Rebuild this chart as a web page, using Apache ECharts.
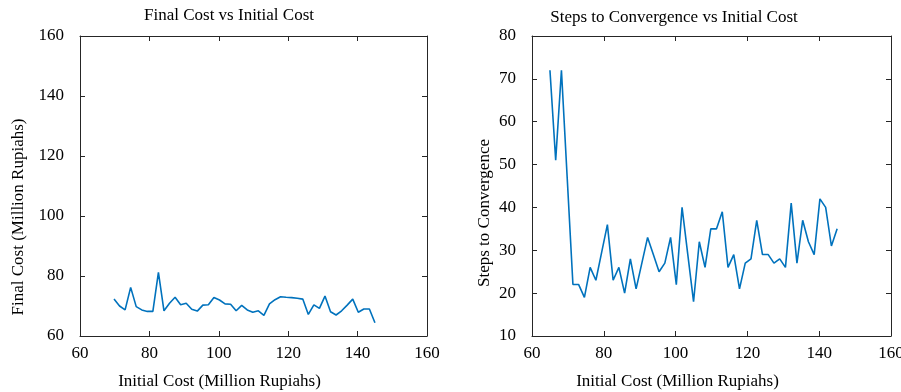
<!DOCTYPE html>
<html>
<head>
<meta charset="utf-8">
<script src="https://cdn.jsdelivr.net/npm/echarts@6/dist/echarts.min.js"></script>
<style>html,body{margin:0;padding:0;background:#fff;}#c{width:901px;height:392px;}</style>
</head>
<body>
<div id="c"></div>
<script>
// Left plot: Final Cost vs Initial Cost
const leftX = [69.8,71.4,73.0,74.6,76.2,77.8,79.4,81.0,82.6,84.2,85.8,87.4,89.0,90.6,92.2,93.8,95.4,97.0,98.6,100.2,101.8,103.4,105.0,106.6,108.2,109.8,111.4,113.0,114.6,116.2,117.8,119.4,121.0,122.6,124.2,125.8,127.4,129.0,130.6,132.2,133.8,135.4,137.0,138.6,140.2,141.8,143.4,145.0];
const finalCost = [72.3,70.0,68.7,76.2,69.8,68.7,68.2,68.2,81.2,68.4,70.9,72.9,70.4,70.9,68.9,68.3,70.3,70.4,72.8,72.0,70.7,70.6,68.4,70.2,68.7,67.9,68.4,66.9,70.7,72.1,73.1,72.9,72.8,72.6,72.3,67.2,70.4,69.2,73.3,68.1,67.0,68.4,70.3,72.3,67.9,69.0,69.0,64.4];
// Right plot: Steps to Convergence vs Initial Cost
const rightX = [65.0,66.6,68.2,69.8,71.4,73.0,74.6,76.2,77.8,79.4,81.0,82.6,84.2,85.8,87.4,89.0,90.6,92.2,93.8,95.4,97.0,98.6,100.2,101.8,103.4,105.0,106.6,108.2,109.8,111.4,113.0,114.6,116.2,117.8,119.4,121.0,122.6,124.2,125.8,127.4,129.0,130.6,132.2,133.8,135.4,137.0,138.6,140.2,141.8,143.4,145.0];
const steps = [72,51,72,47,22,22,19,26,23,29.5,36,23,26,20,28,21,27,33,29,25,27,33,22,40,29,18,32,26,35,35,39,26,29,21,27,28,37,29,29,27,28,26,41,27,37,32,29,42,40,31,35];
const xTicks = [60,80,100,120,140,160];
const leftYTicks = [60,80,100,120,140,160];
const rightYTicks = [10,20,30,40,50,60,70,80];
const titles = ['Final Cost vs Initial Cost','Steps to Convergence vs Initial Cost'];
const xName = 'Initial Cost (Million Rupiahs)';
const yNames = ['Final Cost (Million Rupiahs)','Steps to Convergence'];

const FONT = 'Liberation Serif';
const AX = '#262626';
const LINE = '#0072BD';

function xAxes(gi, ticks){
  const base = {type:'value', gridIndex:gi, min:ticks[0], max:ticks[ticks.length-1], interval:ticks[1]-ticks[0],
    splitLine:{show:false}, axisLine:{show:true, onZero:false, lineStyle:{color:AX, width:1}},
    axisTick:{show:true, inside:true, length:5, lineStyle:{color:AX}}};
  return [
    Object.assign({}, base, {position:'bottom', name:xName, nameLocation:'middle', nameGap:37,
      nameTextStyle:{fontFamily:FONT, fontSize:17, color:'#000', padding:[0,68,0,0]},
      axisLabel:{show:true, margin:9, fontFamily:FONT, fontSize:17, color:'#000'}}),
    Object.assign({}, base, {position:'top', axisLabel:{show:false}})
  ];
}
function yAxes(gi, ticks, name, gap, pad){
  const base = {type:'value', gridIndex:gi, min:ticks[0], max:ticks[ticks.length-1], interval:ticks[1]-ticks[0],
    splitLine:{show:false}, axisLine:{show:true, onZero:false, lineStyle:{color:AX, width:1}},
    axisTick:{show:true, inside:true, length:5, lineStyle:{color:AX}}};
  return [
    Object.assign({}, base, {position:'left', name:name, nameLocation:'middle', nameGap:gap,
      nameTextStyle:{fontFamily:FONT, fontSize:17, color:'#000', padding:[0,pad,0,0]},
      axisLabel:{show:true, margin:16, fontFamily:FONT, fontSize:17, color:'#000', padding:[0,0,4,0]}}),
    Object.assign({}, base, {position:'right', axisLabel:{show:false}})
  ];
}

const chart = echarts.init(document.getElementById('c'), null, {renderer:'canvas'});
const xa = xAxes(0, xTicks).concat(xAxes(1, xTicks));
const ya = yAxes(0, leftYTicks, yNames[0], 53, 62).concat(yAxes(1, rightYTicks, yNames[1], 39, 54));
chart.setOption({
  backgroundColor:'#fff',
  animation:false,
  title:[
    {text:titles[0], left:224, top:2, textAlign:'center', textStyle:{fontFamily:FONT, fontSize:17, fontWeight:'normal', color:'#000'}},
    {text:titles[1], left:669, top:4, textAlign:'center', textStyle:{fontFamily:FONT, fontSize:17, fontWeight:'normal', color:'#000'}}
  ],
  grid:[
    {left:80, top:36, width:347, height:300, containLabel:false, outerBoundsMode:'none'},
    {left:532, top:36, width:359, height:300, containLabel:false, outerBoundsMode:'none'}
  ],
  xAxis: xa,
  yAxis: ya,
  series:[
    {type:'line', xAxisIndex:0, yAxisIndex:0, data:leftX.map((x,i)=>[x, finalCost[i]]), showSymbol:false, symbol:'none',
      lineStyle:{color:LINE, width:1.6}, itemStyle:{color:LINE}},
    {type:'line', xAxisIndex:2, yAxisIndex:2, data:rightX.map((x,i)=>[x, steps[i]]), showSymbol:false, symbol:'none',
      lineStyle:{color:LINE, width:1.6}, itemStyle:{color:LINE}}
  ]
});
</script>
</body>
</html>
